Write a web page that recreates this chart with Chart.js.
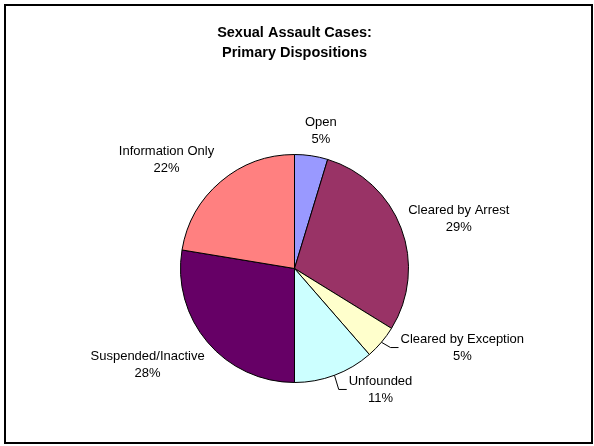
<!DOCTYPE html>
<html>
<head>
<meta charset="utf-8">
<script src="https://cdn.jsdelivr.net/npm/chart.js@4.4.1/dist/chart.umd.min.js"></script>
<style>
  html, body { margin: 0; padding: 0; background: #fff; }
  canvas { display: block; }
</style>
</head>
<body>
<canvas id="pie-chart" width="594" height="446"></canvas>
<script>
const categories = [
  "Open",
  "Cleared by Arrest",
  "Cleared by Exception",
  "Unfounded",
  "Suspended/Inactive",
  "Information Only",
];
const shares = [4.7, 29.1, 4.8, 11.4, 27.6, 22.4];
const sliceColors = ["#9999FF", "#993366", "#FFFFCC", "#CCFFFF", "#660066", "#FF8080"];

// label placement: [distance as multiple of radius, angle shift in degrees], leader line on/off
const labelPlace = [[1.227, 2.4], [1.506, 3.8], [1.627, -15.1], [1.302, -14.9], [1.54, 7.1], [1.472, -9.4]];
const leaders = [false, false, true, true, false, false];

const labelFont = "13px 'Liberation Sans', Arial, sans-serif";

const framePlugin = {
  id: "frame",
  beforeDraw(chart) {
    const ctx = chart.ctx;
    ctx.save();
    ctx.fillStyle = "#fff";
    ctx.fillRect(0, 0, chart.width, chart.height);
    ctx.restore();
  },
  afterDraw(chart) {
    const ctx = chart.ctx;
    ctx.save();
    ctx.strokeStyle = "#000";
    ctx.lineWidth = 2;
    ctx.strokeRect(5, 5, chart.width - 7, chart.height - 8);
    ctx.restore();
  },
};

const sliceLabels = {
  id: "sliceLabels",
  afterDatasetsDraw(chart) {
    const ctx = chart.ctx;
    const meta = chart.getDatasetMeta(0);
    const total = shares.reduce((a, b) => a + b, 0);
    ctx.save();
    ctx.font = labelFont;
    ctx.fillStyle = "#000";
    ctx.textAlign = "center";
    ctx.textBaseline = "middle";
    meta.data.forEach((arc, i) => {
      const p = arc.getProps(["x", "y", "startAngle", "endAngle", "outerRadius"], true);
      const mid = (p.startAngle + p.endAngle) / 2;
      const ang = mid + labelPlace[i][1] * Math.PI / 180;
      const d = p.outerRadius * labelPlace[i][0];
      const cx = p.x + Math.cos(ang) * d;
      const cy = p.y + Math.sin(ang) * d;
      const pct = Math.round(shares[i] / total * 100) + "%";
      ctx.fillText(categories[i], cx, cy - 8.5);
      ctx.fillText(pct, cx, cy + 8.5);
      if (leaders[i]) {
        const left = cx - ctx.measureText(categories[i]).width / 2;
        const ex = p.x + Math.cos(mid) * p.outerRadius;
        const ey = p.y + Math.sin(mid) * p.outerRadius;
        ctx.beginPath();
        ctx.strokeStyle = "#000";
        ctx.lineWidth = 1;
        ctx.moveTo(ex, ey);
        ctx.lineTo(left - 10, cy);
        ctx.lineTo(left - 2, cy);
        ctx.stroke();
      }
    });
    ctx.restore();
  },
};

new Chart(document.getElementById("pie-chart"), {
  type: "pie",
  data: {
    labels: categories,
    datasets: [
      {
        data: shares,
        backgroundColor: sliceColors,
        borderColor: "#000",
        borderWidth: 1,
      },
    ],
  },
  options: {
    responsive: false,
    animation: false,
    layout: { padding: { left: 180, right: 185, top: 0, bottom: 63 } },
    plugins: {
      legend: { display: false },
      tooltip: { enabled: false },
      title: {
        display: true,
        text: ["Sexual Assault Cases:", "Primary Dispositions"],
        color: "#000",
        font: { family: "'Liberation Sans', Arial, sans-serif", size: 14.5, weight: "bold", lineHeight: 1.35 },
        padding: { top: 23.5, bottom: 91.35 },
      },
    },
  },
  plugins: [framePlugin, sliceLabels],
});
</script>
</body>
</html>
